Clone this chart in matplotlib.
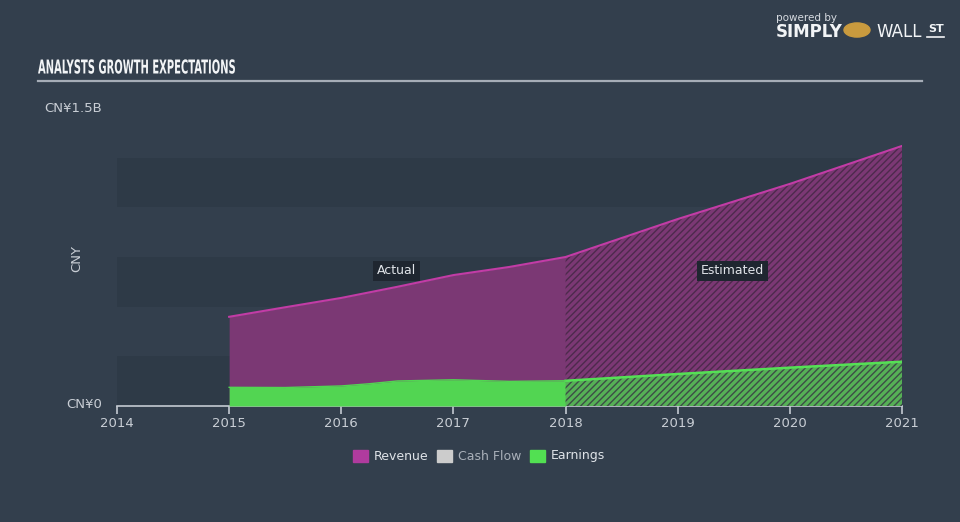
import matplotlib
matplotlib.use("Agg")
import matplotlib.pyplot as plt
import matplotlib.patches as mpatches
from matplotlib.patheffects import AbstractPathEffect
from matplotlib.transforms import Affine2D
import numpy as np

# ---- data (CNY billions) ----
rev_act_x = [2015.0, 2015.5, 2016.0, 2016.5, 2017.0, 2017.5, 2018.0]
rev_act_y = [0.449, 0.497, 0.544, 0.600, 0.659, 0.700, 0.750]
rev_est_x = [2018.0, 2019.0, 2020.0, 2021.0]
rev_est_y = [0.750, 0.941, 1.118, 1.309]
earn_act_x = [2015.0, 2015.5, 2016.0, 2016.25, 2016.5, 2017.0, 2017.5, 2018.0]
earn_act_y = [0.094, 0.093, 0.101, 0.112, 0.126, 0.132, 0.124, 0.127]
earn_est_x = [2018.0, 2019.0, 2020.0, 2021.0]
earn_est_y = [0.127, 0.161, 0.193, 0.223]
year_ticks = [2014, 2015, 2016, 2017, 2018, 2019, 2020, 2021]
band_edges = [0.0, 0.25, 0.5, 0.75, 1.0, 1.25]
legend_labels = ["Revenue", "Cash Flow", "Earnings"]

BG = "#333f4d"
BAND = "#2e3a47"
REV_FILL = "#7b3874"
REV_LINE = "#c23ca6"
EARN_FILL = "#52d552"
EARN_LINE = "#55e055"
TXT = "#c9ced5"

plt.rcParams['hatch.linewidth'] = 1.0


class HScale(AbstractPathEffect):
    """Horizontally condense drawn text around a fixed display x."""
    def __init__(self, sx, x0):
        super().__init__()
        self.sx = sx
        self.x0 = x0

    def draw_path(self, renderer, gc, tpath, affine, rgbFace=None):
        aff = affine + Affine2D().translate(-self.x0, 0).scale(self.sx, 1).translate(self.x0, 0)
        renderer.draw_path(gc, tpath, aff, rgbFace)


W, H = 960, 522
fig = plt.figure(figsize=(W / 100, H / 100), dpi=100, facecolor=BG)

def px(x0, y0, x1, y1):
    return [x0 / W, 1 - y1 / H, (x1 - x0) / W, (y1 - y0) / H]

ax = fig.add_axes(px(117, 108, 902, 406))
ax.set_facecolor("none")
ax.set_xlim(2014, 2021)
ax.set_ylim(0, 1.5)

# bands
for i in range(0, len(band_edges) - 1, 2):
    ax.axhspan(band_edges[i], band_edges[i + 1], color=BAND, lw=0, zorder=0)

# revenue
ax.fill_between(rev_act_x, 0, rev_act_y, color=REV_FILL, lw=0, zorder=2)
ax.fill_between(rev_est_x, 0, rev_est_y, facecolor=REV_FILL, edgecolor="#4d2a4c",
                hatch="/////", lw=0, zorder=2)
ax.plot(rev_act_x + rev_est_x[1:], rev_act_y + rev_est_y[1:], color=REV_LINE, lw=1.5, zorder=4)

# earnings
ax.fill_between(earn_act_x, 0, earn_act_y, color=EARN_FILL, lw=0, zorder=3)
ax.fill_between(earn_est_x, 0, earn_est_y, facecolor="#56b056", edgecolor="#3d4d47",
                hatch="/////", lw=0, zorder=3)
ax.plot(earn_est_x, earn_est_y, color=EARN_LINE, lw=1.8, zorder=4)
ax.plot(earn_act_x, earn_act_y, color=EARN_FILL, lw=1.0, zorder=4)

for s in ["top", "right", "left"]:
    ax.spines[s].set_visible(False)
ax.spines["bottom"].set_color("#c4cad2")
ax.spines["bottom"].set_linewidth(1.2)
ax.set_yticks([])
ax.set_xticks(year_ticks)
ax.set_xticklabels([str(y) for y in year_ticks])
ax.tick_params(axis="x", colors="#c4cad2", labelcolor=TXT, length=6, width=1.2,
               labelsize=9.5, pad=2)

# labels Actual / Estimated
bbox = dict(boxstyle="square,pad=0.3", fc="#1f2630", ec="none")
ax.text(2016.49, 0.68, "Actual", color="#e0e3e8", fontsize=9, ha="center", va="center",
        bbox=bbox, zorder=6)
ax.text(2019.49, 0.68, "Estimated", color="#e0e3e8", fontsize=9, ha="center", va="center",
        bbox=bbox, zorder=6)

# y labels
fig.text(102 / W, 1 - 108 / H, "CN¥1.5B", color=TXT, fontsize=9.5, ha="right", va="center")
fig.text(102 / W, 1 - 404 / H, "CN¥0", color=TXT, fontsize=9.5, ha="right", va="center")
fig.text(77 / W, 1 - 258 / H, "CNY", color=TXT, fontsize=9.5, ha="center", va="center",
         rotation=90)

# title (condensed look)
fig.text(38 / W, 1 - 68 / H, "ANALYSTS GROWTH EXPECTATIONS", color="#f2f4f6",
         fontsize=13.8, fontweight="bold", family="DejaVu Sans",
         ha="left", va="center", path_effects=[HScale(0.52, 38)])
fig.add_artist(plt.Line2D([38 / W, 922 / W], [1 - 81 / H, 1 - 81 / H], color="#a6adb7", lw=1.6))

# legend
leg_items = [(353, "#b03b9e", "#dfe3e8", legend_labels[0]),
             (437, "#cccccc", "#a9b0b9", legend_labels[1]),
             (530, "#52e052", "#dfe3e8", legend_labels[2])]
for x0, c, tc, lab in leg_items:
    fig.add_artist(mpatches.Rectangle((x0 / W, 1 - 462 / H), 15 / W, 12 / H, color=c,
                                      transform=fig.transFigure))
    fig.text((x0 + 21) / W, 1 - 456 / H, lab, color=tc, fontsize=9, ha="left", va="center")

# logo
fig.text(776 / W, 1 - 18 / H, "powered by", color="#d6dae0", fontsize=7.5, ha="left", va="center")
fig.text(776 / W, 1 - 32 / H, "SIMPLY", color="#f2f4f6", fontsize=12, fontweight="bold",
         ha="left", va="center")
fig.add_artist(mpatches.Circle((857 / W, 1 - 30 / H), 13 / W, color="#c99a3e",
                               transform=fig.transFigure))
fig.text(876 / W, 1 - 32 / H, "WALL", color="#f2f4f6", fontsize=12, ha="left", va="center")
fig.text(928 / W, 1 - 29 / H, "ST", color="#f2f4f6", fontsize=8, fontweight="bold",
         ha="left", va="center")
fig.add_artist(plt.Line2D([927 / W, 944 / W], [1 - 37 / H, 1 - 37 / H], color="#f2f4f6", lw=1.2))

fig.savefig("out.png", dpi=100, facecolor=BG)
